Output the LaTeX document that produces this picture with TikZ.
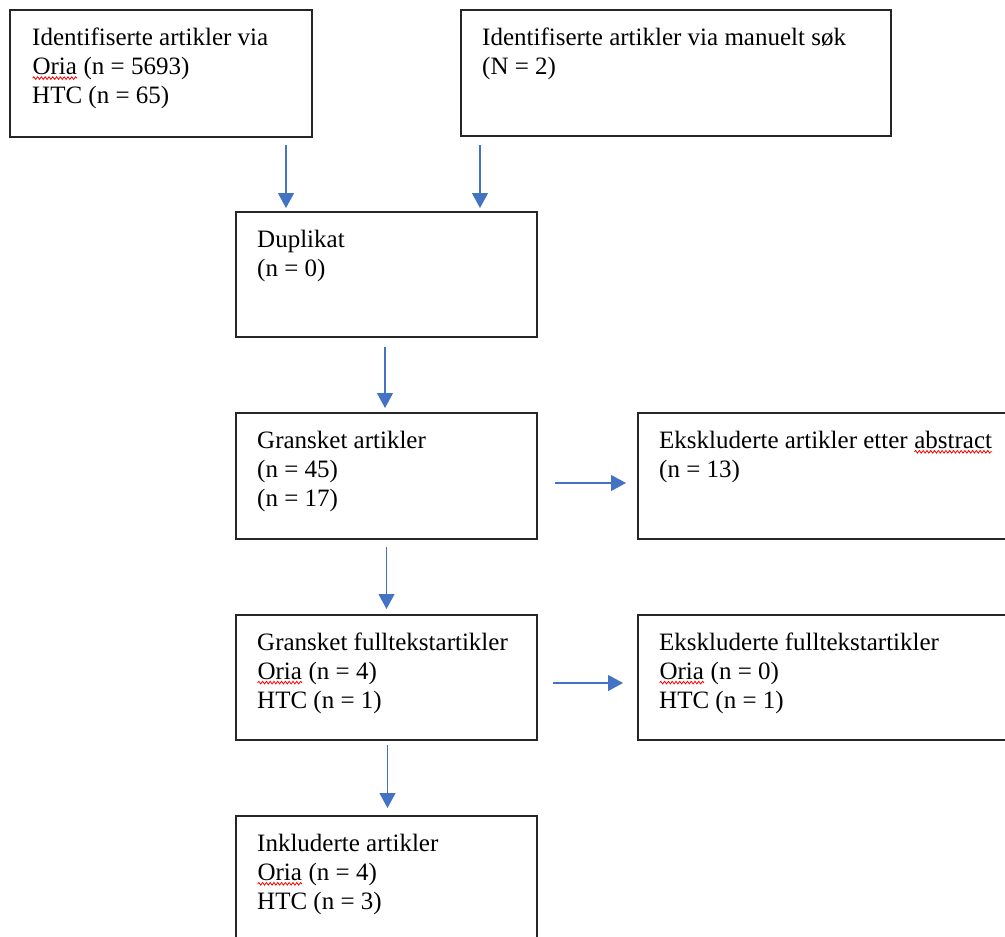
\documentclass[tikz,border=0pt]{standalone}
\usepackage{fontspec}
\setmainfont{Liberation Serif}
\usetikzlibrary{arrows.meta,decorations.pathmorphing}
\definecolor{pilblaa}{HTML}{4472C4}
\newcommand{\stavefeil}[1]{\tikz[baseline=(ord.base)]{\node[inner sep=0pt,outer sep=0pt] (ord) {#1};%
  \draw[red,line width=0.8pt,decorate,decoration={snake,amplitude=1.3pt,segment length=3.8pt}]%
    ([yshift=-3.6pt]ord.base west) -- ([yshift=-3.6pt]ord.base east);}}
\begin{document}
\begin{tikzpicture}[x=1pt,y=-1pt,
    boks/.style={draw=black!85,line width=1.3pt,inner sep=0pt,outer sep=0pt,anchor=north west},
    tekst/.style={inner sep=0pt,anchor=north west,align=left,font=\fontsize{25}{29}\selectfont},
    pil/.style={pilblaa,line width=1.2pt,-{Triangle[width=16pt,length=15pt]}}]
    \useasboundingbox (0,0) rectangle (1005,937);%
    \clip (0,0) rectangle (1005,937);%

    \node[boks,minimum width=302pt,minimum height=127pt] (idOria) at (10,10) {};%
    \node[boks,minimum width=430pt,minimum height=126pt] (idManuelt) at (461,10) {};%
    \node[boks,minimum width=301pt,minimum height=125pt] (dup) at (236,212) {};%
    \node[boks,minimum width=301pt,minimum height=126pt] (gransket) at (236,413) {};%
    \node[boks,minimum width=400pt,minimum height=126pt] (eksAbs) at (638,413) {};%
    \node[boks,minimum width=301pt,minimum height=125pt] (fulltekst) at (236,615) {};%
    \node[boks,minimum width=400pt,minimum height=125pt] (eksFull) at (638,615) {};%
    \node[boks,minimum width=301pt,minimum height=150pt] (inkl) at (236,816) {};%

    \node[tekst] (idOriaT) at ([shift={(22,15)}]idOria.north west)
      {\strut Identifiserte artikler via\\ \stavefeil{Oria} (n = 5693)\\ HTC (n = 65)};%
    \node[tekst] (idManueltT) at ([shift={(21,14.5)}]idManuelt.north west)
      {\strut Identifiserte artikler via manuelt søk\\ (N = 2)};%
    \node[tekst] (dupT) at ([shift={(21,14.7)}]dup.north west)
      {\strut Duplikat\\ (n = 0)};%
    \node[tekst] (gransketT) at ([shift={(21,14.7)}]gransket.north west)
      {\strut Gransket artikler\\ (n = 45)\\ (n = 17)};%
    \node[tekst] (eksAbsT) at ([shift={(21,14.7)}]eksAbs.north west)
      {\strut Ekskluderte artikler etter \stavefeil{abstract}\\ (n = 13)};%
    \node[tekst] (fulltekstT) at ([shift={(21,14.5)}]fulltekst.north west)
      {\strut Gransket fulltekstartikler\\ \stavefeil{Oria} (n = 4)\\ HTC (n = 1)};%
    \node[tekst] (eksFullT) at ([shift={(21,14.5)}]eksFull.north west)
      {\strut Ekskluderte fulltekstartikler\\ \stavefeil{Oria} (n = 0)\\ HTC (n = 1)};%
    \node[tekst] (inklT) at ([shift={(21,14.7)}]inkl.north west)
      {\strut Inkluderte artikler\\ \stavefeil{Oria} (n = 4)\\ HTC (n = 3)};%

    \draw[pil] ([shift={(-26,8)}]idOria.south east) -- ([shift={(50,-4)}]dup.north west);%
    \draw[pil] ([shift={(19,9)}]idManuelt.south west) -- ([shift={(244,-4)}]dup.north west);%
    \draw[pil] ([shift={(-1.5,10)}]dup.south) -- ([shift={(-1.5,-5)}]gransket.north);%
    \draw[pil] ([shift={(18,-56)}]gransket.south east) -- ([shift={(-12,70)}]eksAbs.north west);%
    \draw[pil] ([shift={(0,8)}]gransket.south) -- ([shift={(0,-6)}]fulltekst.north);%
    \draw[pil] ([shift={(16,-57)}]fulltekst.south east) -- ([shift={(-15,68)}]eksFull.north west);%
    \draw[pil] ([shift={(1,5)}]fulltekst.south) -- ([shift={(1,-8)}]inkl.north);%
  \end{tikzpicture}
\end{document}
